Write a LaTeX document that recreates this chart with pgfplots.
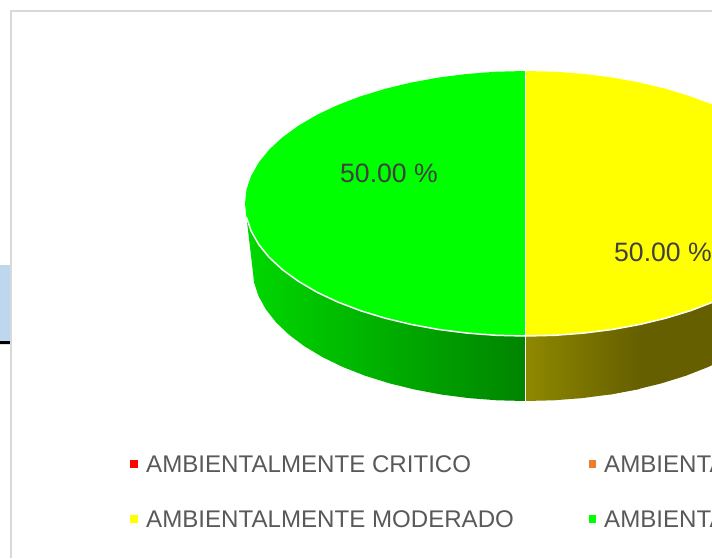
\documentclass[border=0pt]{standalone}
\usepackage{pgfplots}
\pgfplotsset{compat=1.18}
\usepackage{fontspec}
\setmainfont{Liberation Sans}
\definecolor{legtext}{HTML}{595959}
\definecolor{labtext}{HTML}{404040}
\definecolor{panel}{HTML}{D9D9D9}
\definecolor{strip}{HTML}{BDD7EE}
\definecolor{sideGA}{HTML}{00D800}
\definecolor{sideGB}{HTML}{008400}
\definecolor{sideYA}{HTML}{8E8800}
\definecolor{sideYB}{HTML}{665F00}
\definecolor{pieY}{HTML}{FFFF00}
\definecolor{pieG}{HTML}{00FF00}
\definecolor{pieR}{HTML}{FF0000}
\definecolor{pieO}{HTML}{ED7D31}
\begin{document}
\begin{tikzpicture}
\path[use as bounding box] (0,0) rectangle (712pt,558pt);
\clip (0,0) rectangle (712pt,558pt);
\begin{axis}[at={(0,0)},anchor=south west,hide axis,scale only axis,width=712pt,height=558pt,
  xmin=0,xmax=712,ymin=0,ymax=558,y dir=reverse,clip=true]
% side strip outside the panel
\addplot[fill=strip,draw=none] coordinates {(0,265)(10,265)(10,341)(0,341)(0,265)};
\addplot[fill=black,draw=none] coordinates {(0,341)(10,341)(10,344)(0,344)(0,341)};
% panel frame
\addplot[draw=panel,line width=2pt] coordinates {(712,10.5)(10.5,10.5)(10.5,558)};
% green side
\addplot[left color=sideGA,right color=sideGB,draw=none] coordinates {
(246.5,217.4)(251.1,231.0)(258.7,244.4)(269.2,257.4)(282.6,269.8)(298.6,281.4)(317.0,292.2)(337.8,302.0)(360.6,310.7)(385.2,318.2)(411.4,324.5)(438.8,329.5)(467.2,333.1)(496.2,335.3)(525.5,336.0)
(525.5,401.0)(497.0,400.3)(468.7,398.1)(441.1,394.5)(414.5,389.5)(389.0,383.2)(365.0,375.7)(342.8,367.0)(322.6,357.2)(304.6,346.4)(289.1,334.8)(276.1,322.4)(265.9,309.4)(258.5,296.0)(254.0,282.4)(252.5,268.5)(246.5,217.4)};
% yellow side, flat dark part (runs under the gradient part)
\addplot[fill=sideYB,draw=none] coordinates {
(612.2,329.5)(639.6,324.5)(665.8,318.2)(690.4,310.7)(713.2,302.0)(734.0,292.2)
(728.4,357.2)(708.2,367.0)(686.0,375.7)(662.0,383.2)(636.5,389.5)(609.9,394.5)(612.2,329.5)};
% yellow side, gradient part
\addplot[left color=sideYA,right color=sideYB,draw=none] coordinates {
(525.5,336.0)(554.8,335.3)(583.8,333.1)(612.2,329.5)(639.6,324.5)(639.6,389.0)
(636.5,389.5)(609.9,394.5)(582.3,398.1)(554.0,400.3)(525.5,401.0)(525.5,336.0)};
% green top
\addplot[fill=pieG,draw=none] coordinates {
(525.5,71.0)(496.2,71.7)(467.2,73.9)(438.8,77.5)(411.4,82.5)(385.2,88.8)(360.6,96.3)(337.8,105.0)(317.0,114.8)(298.6,125.6)(282.6,137.2)(269.2,149.6)(258.7,162.6)(251.1,176.0)(246.5,189.6)(245.0,203.5)
(246.5,217.4)(251.1,231.0)(258.7,244.4)(269.2,257.4)(282.6,269.8)(298.6,281.4)(317.0,292.2)(337.8,302.0)(360.6,310.7)(385.2,318.2)(411.4,324.5)(438.8,329.5)(467.2,333.1)(496.2,335.3)(525.5,336.0)(525.5,71.0)};
% yellow top
\addplot[fill=pieY,draw=none] coordinates {
(525.5,71.0)(554.8,71.7)(583.8,73.9)(612.2,77.5)(639.6,82.5)(665.8,88.8)(690.4,96.3)(713.2,105.0)(734.0,114.8)(752.4,125.6)(768.4,137.2)(781.8,149.6)(792.3,162.6)(799.9,176.0)(804.5,189.6)(806.0,203.5)
(804.5,217.4)(799.9,231.0)(792.3,244.4)(781.8,257.4)(768.4,269.8)(752.4,281.4)(734.0,292.2)(713.2,302.0)(690.4,310.7)(665.8,318.2)(639.6,324.5)(612.2,329.5)(583.8,333.1)(554.8,335.3)(525.5,336.0)(525.5,71.0)};
% white edges
\addplot[draw=white,line width=1.5pt] coordinates {
(246.5,217.4)(251.1,231.0)(258.7,244.4)(269.2,257.4)(282.6,269.8)(298.6,281.4)(317.0,292.2)(337.8,302.0)(360.6,310.7)(385.2,318.2)(411.4,324.5)(438.8,329.5)(467.2,333.1)(496.2,335.3)(525.5,336.0)(554.8,335.3)(583.8,333.1)(612.2,329.5)(639.6,324.5)(665.8,318.2)(690.4,310.7)(713.2,302.0)};
\addplot[draw=white,line width=1.5pt] coordinates {(525.5,71.0)(525.5,401.0)};
% legend keys
\addplot[only marks,mark=square*,mark size=3.2pt,draw=pieR,fill=pieR,mark options={line width=0pt}] coordinates {(134,464)};
\addplot[only marks,mark=square*,mark size=3.2pt,draw=pieO,fill=pieO,mark options={line width=0pt}] coordinates {(592.3,464)};
\addplot[only marks,mark=square*,mark size=3.2pt,draw=pieY,fill=pieY,mark options={line width=0pt}] coordinates {(134,519)};
\addplot[only marks,mark=square*,mark size=3.2pt,draw=pieG,fill=pieG,mark options={line width=0pt}] coordinates {(592.3,519)};
% texts
\node[anchor=base west,inner sep=0pt,text=labtext,font=\fontsize{26.6}{30}\selectfont] at (axis cs:340,182.5) {50.00 \%};
\node[anchor=base west,inner sep=0pt,text=labtext,font=\fontsize{26.6}{30}\selectfont] at (axis cs:614,261.5) {50.00 \%};
\node[anchor=base west,inner sep=0pt,text=legtext,font=\fontsize{24.1}{30}\selectfont] at (axis cs:146,472.5) {AMBIENTALMENTE CRITICO};
\node[anchor=base west,inner sep=0pt,text=legtext,font=\fontsize{24.1}{30}\selectfont] at (axis cs:604,472.5) {AMBIENTALMENTE};
\node[anchor=base west,inner sep=0pt,text=legtext,font=\fontsize{24.1}{30}\selectfont] at (axis cs:146,527.5) {AMBIENTALMENTE MODERADO};
\node[anchor=base west,inner sep=0pt,text=legtext,font=\fontsize{24.1}{30}\selectfont] at (axis cs:604,527.5) {AMBIENTALMENTE};
\end{axis}
\end{tikzpicture}
\end{document}
